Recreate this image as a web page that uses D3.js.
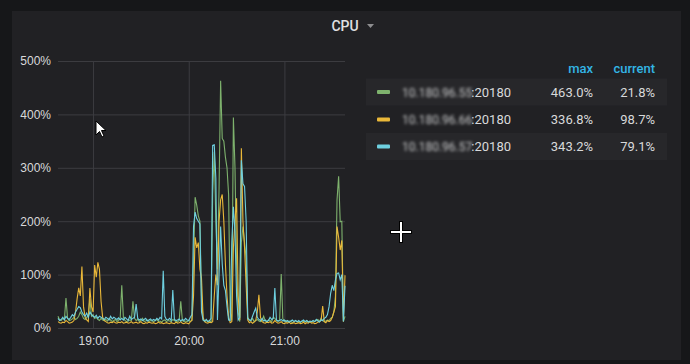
<!DOCTYPE html>
<html>
<head>
<meta charset="utf-8">
<script src="https://cdn.jsdelivr.net/npm/d3@7/dist/d3.min.js"></script>
<style>
  html, body { margin: 0; padding: 0; background: #161719; }
  svg { display: block; font-family: Roboto, "Helvetica Neue", Arial, sans-serif; }
</style>
</head>
<body>
<div id="chart"></div>
<script>
// dados: um ponto por minuto, de 18:38 até 21:38
const startTime = new Date(2019, 0, 1, 18, 38);
const stepMinutes = 1;

const green = [
  22,15,14,18,16,56,18,14,15,17,
  20,16,18,22,30,25,18,16,20,24,
  55,22,25,18,20,16,14,18,15,14,
  16,13,18,15,12,14,16,12,15,18,
  80,20,14,12,13,15,14,50,18,14,
  16,12,14,18,12,13,15,12,14,13,
  12,14,16,12,13,11,14,15,12,14,
  13,12,16,14,12,11,15,50,14,12,
  13,12,14,12,15,120,245,230,210,200,
  60,15,12,14,12,13,11,250,330,200,
  110,260,463,355,350,320,300,250,30,14,
  394,300,120,30,12,160,190,160,130,20,
  15,14,18,12,14,16,13,12,14,22,
  13,12,15,14,12,20,18,14,13,14,
  101,18,12,14,11,13,12,10,12,14,
  11,12,10,13,12,11,14,12,11,12,
  13,12,14,16,12,18,14,12,13,15,
  14,18,20,30,60,240,284,199,200,12,
  21.8
];
const orange = [
  12,10,9,11,10,14,12,9,10,11,
  14,30,55,75,60,115,40,20,15,12,
  75,40,30,118,95,123,110,50,20,14,
  12,10,9,11,10,12,10,9,11,10,
  12,9,10,11,9,10,12,9,10,11,
  9,10,12,9,8,10,9,11,10,9,
  10,8,9,11,9,10,8,9,10,9,
  8,10,9,8,11,9,10,12,9,8,
  10,9,8,12,14,60,170,150,160,110,
  93,20,12,10,9,11,10,12,60,100,
  80,200,240,250,200,120,60,20,10,12,
  150,200,243,60,15,336.8,200,150,80,15,
  10,12,9,11,14,30,62,20,12,10,
  9,11,10,12,9,10,14,11,9,10,
  12,9,8,10,9,11,8,9,10,8,
  9,10,8,9,11,8,10,9,12,9,
  10,8,9,11,12,14,41,12,10,14,
  12,14,20,30,40,190,170,146,164,12,
  98.7
];
const cyan = [
  18,14,16,20,15,22,18,16,20,25,
  22,30,35,40,38,30,25,22,28,20,
  30,25,22,20,24,18,22,20,18,16,
  20,18,15,22,17,20,18,16,19,15,
  18,15,20,17,14,22,16,18,20,45,
  18,15,17,14,16,18,13,15,17,14,
  16,14,18,15,20,17,107,22,16,15,
  18,14,71,16,14,15,17,13,16,14,
  18,15,14,20,25,190,217,205,200,195,
  30,15,13,16,12,14,18,342,343.2,280,
  15,100,190,120,80,70,40,15,14,160,
  227,180,60,15,20,314,270,265,200,18,
  15,14,22,30,37,20,16,14,18,13,
  15,12,14,20,16,18,75,15,13,14,
  16,13,15,12,14,11,13,15,12,14,
  12,14,11,13,15,12,14,11,13,12,
  14,12,16,13,11,15,14,18,20,25,
  40,65,80,70,90,102,103,90,100,12,
  79.1
];

const seriesNames = ['10.180.96.55', '10.180.96.66', '10.180.96.57'];
const seriesPort = ':20180';
const seriesMax = ['463.0%', '336.8%', '343.2%'];
const seriesCurrent = ['21.8%', '98.7%', '79.1%'];
const seriesColors = ['#7eb26d', '#eab839', '#6ed0e0'];
const yTicks = [0, 100, 200, 300, 400, 500];
const xTicks = [new Date(2019, 0, 1, 19, 0), new Date(2019, 0, 1, 20, 0), new Date(2019, 0, 1, 21, 0)];

const W = 690, H = 364;
const svg = d3.select('#chart').append('svg').attr('width', W).attr('height', H);

// filtro para o borrão dos IPs
svg.append('defs').append('filter').attr('id', 'blur')
  .attr('x', '-10%').attr('y', '-40%').attr('width', '120%').attr('height', '180%')
  .append('feGaussianBlur').attr('stdDeviation', 1.6);

// painel
svg.append('rect').attr('x', 12).attr('y', 11).attr('width', 669).attr('height', 349).attr('fill', '#212124');

// título
svg.append('text').attr('x', 345).attr('y', 31).attr('text-anchor', 'middle')
  .attr('fill', '#e0e0e2').attr('font-size', 14).attr('font-weight', 500).text('CPU');
svg.append('path').attr('d', 'M367,24 L374,24 L370.5,28 Z').attr('fill', '#8e8e90');

const margin = { top: 61, left: 58 };
const width = 287, height = 267;
const g = svg.append('g').attr('transform', `translate(${margin.left},${margin.top})`);

const x = d3.scaleTime()
  .domain([startTime, d3.timeMinute.offset(startTime, (green.length - 1) * stepMinutes)])
  .range([0, width]);
const y = d3.scaleLinear().domain([0, 500]).range([height, 0]);

// eixo Y + grade horizontal
const yAxis = g.append('g')
  .call(d3.axisLeft(y).tickValues(yTicks).tickSize(-width).tickPadding(7).tickFormat(d => d + '%'));
yAxis.select('.domain').remove();
yAxis.selectAll('line').attr('stroke', '#3c3c40');
yAxis.selectAll('text').attr('fill', '#d8d9da').attr('font-size', 12);

// eixo X + grade vertical
const xAxis = g.append('g').attr('transform', `translate(0,${height})`)
  .call(d3.axisBottom(x).tickValues(xTicks).tickSize(-height).tickPadding(8).tickFormat(d3.timeFormat('%H:%M')));
xAxis.select('.domain').remove();
xAxis.selectAll('line').attr('stroke', '#3c3c40');
xAxis.selectAll('text').attr('fill', '#d8d9da').attr('font-size', 12);

// linhas
const times = green.map((_, i) => d3.timeMinute.offset(startTime, i * stepMinutes));
const line = d3.line().x((d, i) => x(times[i])).y(d => y(d));
[green, orange, cyan].forEach((s, k) => {
  g.append('path').datum(s).attr('d', line)
    .attr('fill', 'none').attr('stroke', seriesColors[k]).attr('stroke-width', 1.1);
});

// legenda em tabela
svg.append('text').attr('x', 593).attr('y', 73).attr('text-anchor', 'end')
  .attr('fill', '#33b5e5').attr('font-size', 13).attr('font-weight', 500).text('max');
svg.append('text').attr('x', 655).attr('y', 73).attr('text-anchor', 'end')
  .attr('fill', '#33b5e5').attr('font-size', 13).attr('font-weight', 500).text('current');

const rowY = [92, 119.5, 146.5];
seriesNames.forEach((name, i) => {
  const cy = rowY[i];
  if (i !== 1) {
    svg.append('rect').attr('x', 366).attr('y', cy - 13.5).attr('width', 301).attr('height', 27).attr('fill', '#27272a');
  }
  svg.append('rect').attr('x', 377).attr('y', cy - 2).attr('width', 13).attr('height', 4).attr('rx', 1).attr('fill', seriesColors[i]);
  svg.append('text').attr('x', 402).attr('y', cy + 4.5).attr('fill', '#c8c9ca').attr('font-size', 12)
    .attr('filter', 'url(#blur)').text(name);
  svg.append('text').attr('x', 511).attr('y', cy + 4.5).attr('text-anchor', 'end').attr('fill', '#d8d9da').attr('font-size', 13).text(seriesPort);
  svg.append('text').attr('x', 593).attr('y', cy + 4.5).attr('text-anchor', 'end').attr('fill', '#d8d9da').attr('font-size', 13).text(seriesMax[i]);
  svg.append('text').attr('x', 655).attr('y', cy + 4.5).attr('text-anchor', 'end').attr('fill', '#d8d9da').attr('font-size', 13).text(seriesCurrent[i]);
});

// cursor do mouse e cruz
svg.append('path')
  .attr('d', 'M96,121 L96,135 L99.5,131.5 L102,137 L104,136 L101.5,130.5 L106,130.5 Z')
  .attr('fill', '#ffffff').attr('stroke', '#000000').attr('stroke-width', 1);
svg.append('path').attr('d', 'M390,232 L412,232 M401,221 L401,243')
  .attr('stroke', '#000000').attr('stroke-width', 4);
svg.append('path').attr('d', 'M391,232 L411,232 M401,222 L401,242')
  .attr('stroke', '#ffffff').attr('stroke-width', 2);
</script>
</body>
</html>
